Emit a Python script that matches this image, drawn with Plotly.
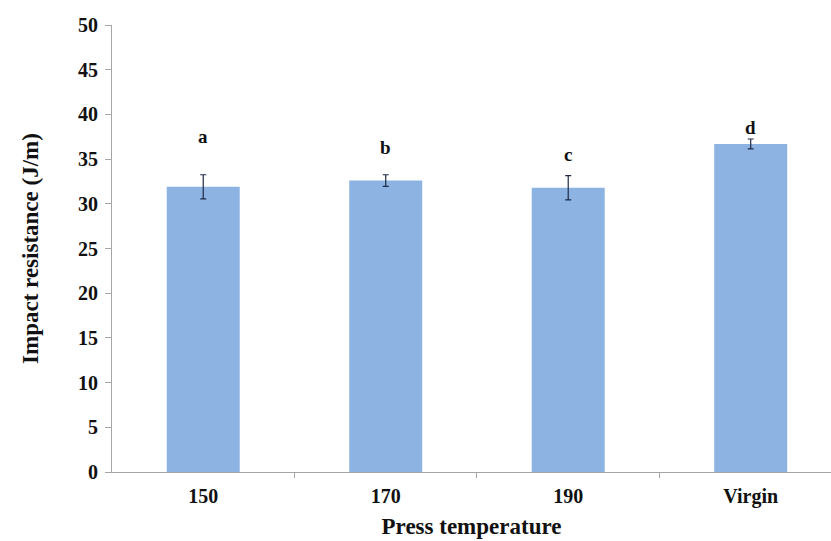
import plotly.graph_objects as go

categories = ["150", "170", "190", "Virgin"]
impact = [31.9, 32.6, 31.8, 36.7]
impact_err = [1.35, 0.65, 1.35, 0.55]
group_letters = ["a", "b", "c", "d"]
y_ticks = [0, 5, 10, 15, 20, 25, 30, 35, 40, 45, 50]

FONT = "Liberation Serif"

fig = go.Figure()
fig.add_trace(go.Bar(
    x=list(range(len(categories))),
    y=impact,
    width=0.4,
    marker=dict(color="#8db3e2", line=dict(width=0)),
    error_y=dict(type="data", array=impact_err, visible=True,
                 color="#1f2a44", thickness=1.2, width=3),
    showlegend=False,
))

label_offsets = [4.3, 3.1, 2.4, 1.3]
for i, (v, e, t) in enumerate(zip(impact, impact_err, group_letters)):
    fig.add_annotation(x=i, y=v + e + label_offsets[i], text="<b>%s</b>" % t,
                       showarrow=False, font=dict(family=FONT, size=19, color="#111"))

fig.update_layout(
    width=831, height=541,
    margin=dict(l=112, r=0, t=25, b=69),
    paper_bgcolor="white", plot_bgcolor="white",
    bargap=0.6,
    xaxis=dict(
        automargin=False,
        range=[-0.5, 3.44],
        tickmode="array",
        tickvals=list(range(len(categories))),
        ticktext=["<b>%s</b>" % c for c in categories],
        ticks="",
        ticklabelstandoff=6,
        showline=True, linecolor="#a6a6a6", linewidth=1,
        showgrid=False, zeroline=False,
        tickfont=dict(family=FONT, size=20, color="#111"),
        title=dict(text="<b>Press temperature</b>", standoff=10,
                   font=dict(family=FONT, size=23, color="#111")),
        minor=dict(tickmode="array", tickvals=[0.5, 1.5, 2.5], ticks="outside",
                   ticklen=5, tickcolor="#a6a6a6"),
    ),
    yaxis=dict(
        automargin=False,
        range=[0, 50],
        tickmode="array",
        tickvals=y_ticks,
        ticktext=["<b>%d</b>" % t for t in y_ticks],
        ticks="outside", ticklen=6, tickcolor="#a6a6a6",
        ticklabelstandoff=3,
        showline=True, linecolor="#a6a6a6", linewidth=1,
        showgrid=False, zeroline=False,
        tickfont=dict(family=FONT, size=20, color="#111"),
        title=dict(text="<b>Impact resistance (J/m)</b>", standoff=32,
                   font=dict(family=FONT, size=23, color="#111")),
    ),
)

fig.write_html("out.html", config={"displayModeBar": False},
               post_script="document.body.style.margin='0';")
